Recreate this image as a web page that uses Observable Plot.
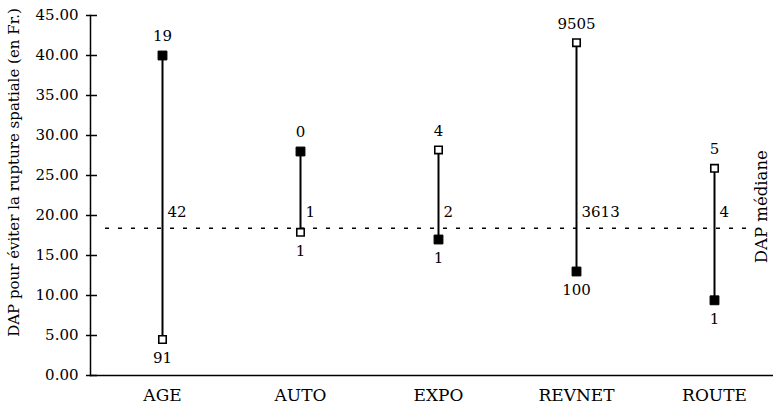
<!DOCTYPE html>
<html><head><meta charset="utf-8">
<script src="https://cdn.jsdelivr.net/npm/d3@7"></script>
<script src="https://cdn.jsdelivr.net/npm/@observablehq/plot@0.6"></script>
<style>body{margin:0;background:#fff}</style>
</head><body><div id="chart"></div>
<script>
const categories = ["AGE", "AUTO", "EXPO", "REVNET", "ROUTE"];
const filledValues = [40.0, 28.0, 17.0, 13.0, 9.4];
const filledLabels = ["19", "0", "1", "100", "1"];
const openValues = [4.5, 17.9, 28.2, 41.6, 25.9];
const openLabels = ["91", "1", "4", "9505", "5"];
const midLabels = ["42", "1", "2", "3613", "4"];
const medianValue = 18.4;
const yTicks = [0, 5, 10, 15, 20, 25, 30, 35, 40, 45];
const yTitle = "DAP pour éviter la rupture spatiale (en Fr.)";
const medianTitle = "DAP médiane";

const rows = categories.map((c, i) => ({cat: c, filled: filledValues[i], open: openValues[i], mid: midLabels[i]}));
const points = categories.flatMap((c, i) => [
  {cat: c, value: filledValues[i], label: filledLabels[i], type: "filled", above: filledValues[i] > openValues[i]},
  {cat: c, value: openValues[i], label: openLabels[i], type: "open", above: openValues[i] > filledValues[i]}
]);

const chart = Plot.plot({
  width: 773, height: 410,
  marginLeft: 90, marginRight: 0, marginTop: 15, marginBottom: 35,
  style: {fontFamily: "DejaVu Serif", fontSize: "15px", color: "black", background: "white"},
  x: {type: "point", domain: categories, padding: 0, insetLeft: 71, insetRight: 58, label: null},
  y: {domain: [0, 45], label: null},
  marks: [
    Plot.ruleY([0], {strokeWidth: 1.5}),
    Plot.frame({anchor: "left", strokeWidth: 1.5}),
    Plot.ruleY([medianValue], {strokeDasharray: "4,9", strokeWidth: 1.5, insetLeft: 15, insetRight: 25}),
    Plot.ruleX(rows, {x: "cat", y1: "filled", y2: "open", strokeWidth: 2}),
    Plot.dot(points.filter(d => d.type === "filled"), {x: "cat", y: "value", symbol: "square", r: 5, fill: "black", stroke: "black", strokeWidth: 1}),
    Plot.dot(points.filter(d => d.type === "open"), {x: "cat", y: "value", symbol: "square", r: 4.2, fill: "white", stroke: "black", strokeWidth: 1.6}),
    Plot.text(points.filter(d => d.above), {x: "cat", y: "value", text: "label", dy: -19}),
    Plot.text(points.filter(d => !d.above), {x: "cat", y: "value", text: "label", dy: 19}),
    Plot.text(rows, {x: "cat", y: () => medianValue + 2, text: "mid", textAnchor: "start", dx: 5}),
    Plot.text([medianTitle], {frameAnchor: "right", y: () => medianValue + 2.7, rotate: -90, dx: -12, textAnchor: "middle", fontSize: 16.5}),
    Plot.text([yTitle], {frameAnchor: "left", rotate: -90, dx: -76, dy: -23, textAnchor: "middle", fontSize: 15}),
    Plot.axisY({ticks: yTicks, tickFormat: d => d.toFixed(2), tickSize: 11, dx: 7, tickPadding: 8, label: null, strokeWidth: 1.5}),
    Plot.axisX({tickSize: 0, tickPadding: 13, label: null, fontSize: 17})
  ]
});
document.getElementById("chart").append(chart);
</script>
</body></html>
